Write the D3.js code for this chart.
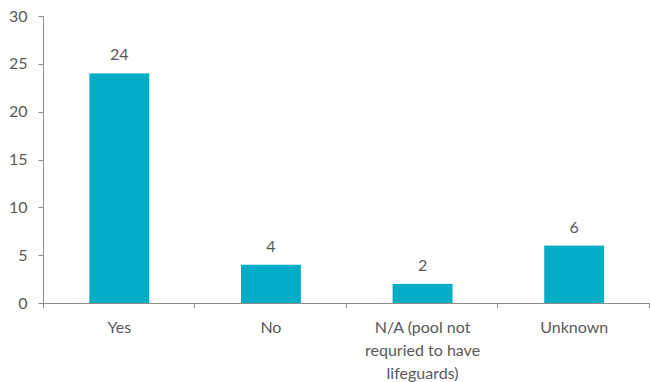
<!DOCTYPE html>
<html><head><meta charset="utf-8">
<script src="https://cdn.jsdelivr.net/npm/d3@7"></script>
<style>body{margin:0;background:#fff}svg{display:block}text{font-family:Lato,"Open Sans",sans-serif;fill:#595959}</style>
</head><body><svg id="c" width="650" height="382"></svg>
<script>
const categories = ["Yes","No","N/A (pool not|requried to have|lifeguards)","Unknown"];
const values = [24,4,2,6];
const yTicks = [0,5,10,15,20,25,30];

const svg = d3.select("#c");
const mLeft = 43.5, mRight = 650, mTop = 16, mBottom = 303;
const fs = 16;
const x = d3.scaleBand().domain(categories).range([mLeft, mRight]).padding(0);
const y = d3.scaleLinear().domain([0,30]).range([mBottom, mTop]);
const barW = x.bandwidth()*0.395;
const axisColor = "#8c8c8c";

// y axis
svg.append("line").attr("x1",mLeft).attr("x2",mLeft).attr("y1",y(30)).attr("y2",y(0)).attr("stroke",axisColor);
yTicks.forEach(t=>{
  svg.append("line").attr("x1",mLeft-5).attr("x2",mLeft).attr("y1",Math.round(y(t))+0.5).attr("y2",Math.round(y(t))+0.5).attr("stroke",axisColor);
  svg.append("text").attr("x",mLeft-16).attr("y",y(t)).attr("dy","0.35em").attr("text-anchor","end").attr("font-size",fs).text(t);
});

// bars
svg.selectAll("rect.bar").data(categories).enter().append("rect")
  .attr("x",d=>x(d)+x.bandwidth()/2-barW/2).attr("width",barW)
  .attr("y",(d,i)=>y(values[i])).attr("height",(d,i)=>y(0)-y(values[i]))
  .attr("fill","#00acc6");

// x axis
svg.append("line").attr("x1",mLeft).attr("x2",mRight).attr("y1",Math.round(y(0))+0.5).attr("y2",Math.round(y(0))+0.5).attr("stroke",axisColor);
categories.forEach((c,i)=>{
  const xe = x(c)+x.bandwidth();
  svg.append("line").attr("x1",Math.round(xe)-0.5).attr("x2",Math.round(xe)-0.5).attr("y1",y(0)).attr("y2",y(0)+5).attr("stroke",axisColor);
});
svg.append("line").attr("x1",mLeft).attr("x2",mLeft).attr("y1",y(0)).attr("y2",y(0)+5).attr("stroke",axisColor);

// category labels
categories.forEach((c,i)=>{
  const lines = c.split("|");
  const t = svg.append("text").attr("text-anchor","middle").attr("font-size",fs);
  lines.forEach((l,j)=>{
    t.append("tspan").attr("x",x(c)+x.bandwidth()/2).attr("y",333+j*23).text(l);
  });
});

// value labels
svg.selectAll("text.val").data(categories).enter().append("text")
  .attr("x",d=>x(d)+x.bandwidth()/2).attr("y",(d,i)=>y(values[i])-13)
  .attr("text-anchor","middle").attr("font-size",fs).text((d,i)=>values[i]);
</script></body></html>
